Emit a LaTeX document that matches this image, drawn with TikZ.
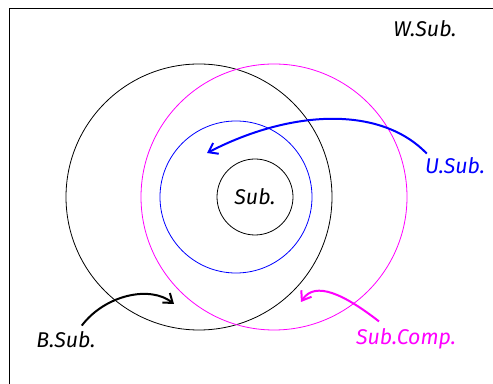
\documentclass[tikz,border=0pt]{standalone}
\usepackage{fontspec}
\setmainfont{Fira Sans}
\usetikzlibrary{arrows.meta}
\definecolor{magentaSub}{HTML}{FF00FF}
\definecolor{bleuSub}{HTML}{0000FF}
\tikzset{
  ensemble/.style={line width=0.6pt},
  etiquette/.style={font=\fontsize{16}{19}\selectfont\itshape, inner sep=0pt},
  fleche/.style={-{Straight Barb[length=2.2mm,width=3.2mm]}, line width=1.5pt}
}
\begin{document}
\begin{tikzpicture}[x=0.75pt,y=-0.75pt]
  \useasboundingbox (0,0) rectangle (493,384);
  \clip (0,0) rectangle (493,384);

  % --- Cadre de l'univers
  \draw[ensemble] (9.5,8) rectangle (560,440);

  % --- Ensembles
  \draw[ensemble] (199,197) circle[radius=133];
  \draw[ensemble, magentaSub] (274,197) circle[radius=133];
  \draw[ensemble, bleuSub] (236,197) circle[radius=76];
  \draw[ensemble] (255,197) circle[radius=38];

  % --- Etiquettes
  \node[etiquette] (sub) at (255,197) {Sub.};
  \node[etiquette] (wsub) at (425,29) {W.Sub.};
  \node[etiquette, bleuSub] (usub) at (455,166) {U.Sub.};
  \node[etiquette] (bsub) at (66,340) {B.Sub.};
  \node[etiquette, magentaSub] (subcomp) at (406,339) {Sub.Comp.};

  % --- Extremites des fleches
  \coordinate (uFin) at (207,153);
  \coordinate (bFin) at (174,304);
  \coordinate (cFin) at (301,302);

  % --- Fleches
  \draw[fleche, bleuSub] (usub.north west) ++(2,-4) coordinate (uDeb)
    (uDeb) .. controls (380,105) and (290,110) .. (uFin);
  \draw[fleche] (bsub.north east) ++(-14,-6) coordinate (bDeb)
    (bDeb) .. controls (105,295) and (150,285) .. (bFin);
  \draw[fleche, magentaSub] (subcomp.north) ++(-27,-7) coordinate (cDeb)
    (cDeb) .. controls (345,295) and (315,280) .. (cFin);
\end{tikzpicture}
\end{document}
